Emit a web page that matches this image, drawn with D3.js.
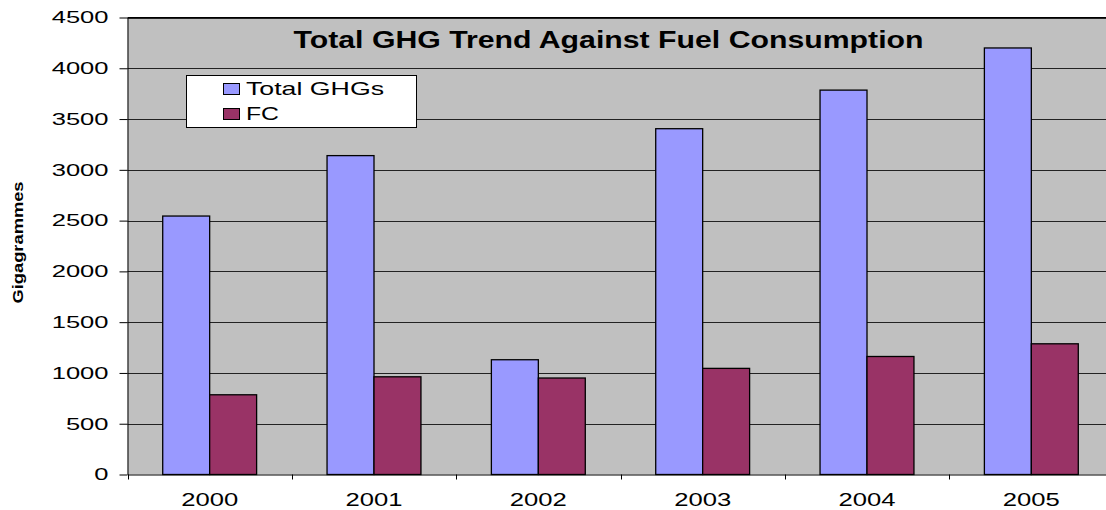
<!DOCTYPE html>
<html>
<head>
<meta charset="utf-8">
<script src="https://cdn.jsdelivr.net/npm/d3@7"></script>
<style>
  body { margin: 0; background: #fff; }
  svg { display: block; font-family: Arial, "Liberation Sans", sans-serif; }
</style>
</head>
<body>
<svg id="chart" width="1106" height="510"></svg>
<script>
const years = ['2000', '2001', '2002', '2003', '2004', '2005']
const seriesNames = ['Total GHGs', 'FC']
const totalGHGs = [2545, 3140, 1130, 3405, 3785, 4200]
const fuelConsumption = [785, 962, 950, 1045, 1162, 1287]
const yTicks = [0, 500, 1000, 1500, 2000, 2500, 3000, 3500, 4000, 4500]

const colors = { 'Total GHGs': '#9999FF', 'FC': '#993366' }

const svg = d3.select('#chart')
const plotLeft = 127.5, plotTop = 17.5, plotBottom = 474.5, plotRight = 1113.5

const x0 = d3.scaleBand().domain(years).range([plotLeft, plotRight]).padding(0)
const x1 = d3.scaleBand().domain(seriesNames).range([0, x0.bandwidth()]).paddingInner(0).paddingOuter(0.75)
const y = d3.scaleLinear().domain([0, 4500]).range([plotBottom, plotTop])

// plot background
svg.append('rect')
  .attr('x', plotLeft).attr('y', plotTop)
  .attr('width', plotRight - plotLeft).attr('height', plotBottom - plotTop)
  .attr('fill', '#C0C0C0')

// gridlines
svg.append('g')
  .selectAll('line')
  .data(yTicks.filter(d => d > 0))
  .join('line')
  .attr('x1', plotLeft).attr('x2', plotRight)
  .attr('y1', d => Math.round(y(d)) + 0.5).attr('y2', d => Math.round(y(d)) + 0.5)
  .attr('stroke', '#222').attr('stroke-width', 1)

// bars
const rows = years.map((yr, i) => ({ year: yr, values: [
  { key: 'Total GHGs', value: totalGHGs[i] },
  { key: 'FC', value: fuelConsumption[i] }
] }))

svg.append('g')
  .selectAll('g')
  .data(rows)
  .join('g')
  .attr('transform', d => `translate(${x0(d.year)},0)`)
  .selectAll('rect')
  .data(d => d.values)
  .join('rect')
  .attr('x', d => x1(d.key))
  .attr('y', d => y(d.value))
  .attr('width', x1.bandwidth())
  .attr('height', d => plotBottom - y(d.value))
  .attr('fill', d => colors[d.key])
  .attr('stroke', '#000')
  .attr('stroke-width', 1.3)

// y axis
const yAxis = svg.append('g')
  .attr('transform', `translate(${plotLeft},0)`)
  .call(d3.axisLeft(y).tickValues(yTicks).tickFormat(d3.format('d'))
    .tickSize(8).tickSizeOuter(0).tickPadding(11))
yAxis.select('.domain').attr('stroke', '#000')
yAxis.selectAll('.tick line').attr('stroke', '#000')
yAxis.selectAll('.tick text')
  .attr('font-size', 16.5)
  .attr('fill', '#000')
  .attr('font-family', 'Arial, "Liberation Sans", sans-serif')
  .attr('textLength', d => String(d).length * 14.2)
  .attr('lengthAdjust', 'spacingAndGlyphs')

// top border
svg.append('line')
  .attr('x1', plotLeft).attr('x2', plotRight)
  .attr('y1', plotTop).attr('y2', plotTop)
  .attr('stroke', '#000')

// x axis
const xAxis = svg.append('g')
  .attr('transform', `translate(0,${plotBottom})`)
  .call(d3.axisBottom(x0).tickSize(0).tickSizeOuter(0).tickPadding(19))
xAxis.select('.domain').attr('stroke', '#000')
xAxis.selectAll('.tick text')
  .attr('font-size', 17.5)
  .attr('fill', '#000')
  .attr('font-family', 'Arial, "Liberation Sans", sans-serif')
  .attr('textLength', 57)
  .attr('lengthAdjust', 'spacingAndGlyphs')

// category boundary ticks
svg.append('g')
  .selectAll('line')
  .data(years)
  .join('line')
  .attr('x1', d => Math.round(x0(d)) + 0.5).attr('x2', d => Math.round(x0(d)) + 0.5)
  .attr('y1', plotBottom).attr('y2', plotBottom + 5)
  .attr('stroke', '#000')

// title
svg.append('text')
  .attr('x', 608.5).attr('y', 47.5)
  .attr('text-anchor', 'middle')
  .attr('font-size', 24)
  .attr('font-weight', 'bold')
  .attr('textLength', 630)
  .attr('lengthAdjust', 'spacingAndGlyphs')
  .text('Total GHG Trend Against Fuel Consumption')

// y axis title
svg.append('text')
  .attr('transform', 'translate(23,242.5) rotate(-90)')
  .attr('text-anchor', 'middle')
  .attr('font-size', 15.5)
  .attr('font-weight', 'bold')
  .attr('textLength', 122)
  .attr('lengthAdjust', 'spacingAndGlyphs')
  .text('Gigagrammes')

// legend
const legendTextWidth = { 'Total GHGs': 138, 'FC': 33 }
const legend = svg.append('g')
legend.append('rect')
  .attr('x', 186.5).attr('y', 75.5)
  .attr('width', 230).attr('height', 52)
  .attr('fill', '#fff').attr('stroke', '#000')
const items = legend.selectAll('g.item')
  .data(seriesNames)
  .join('g')
  .attr('class', 'item')
  .attr('transform', (d, i) => `translate(223,${83 + i * 25})`)
items.append('rect')
  .attr('x', 0.5).attr('y', 0.5)
  .attr('width', 16).attr('height', 11)
  .attr('fill', d => colors[d])
  .attr('stroke', '#000')
items.append('text')
  .attr('x', 23).attr('y', 12)
  .attr('font-size', 18.5)
  .attr('textLength', d => legendTextWidth[d])
  .attr('lengthAdjust', 'spacingAndGlyphs')
  .text(d => d)
</script>
</body>
</html>
